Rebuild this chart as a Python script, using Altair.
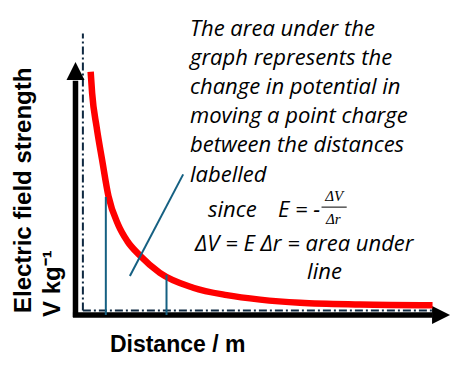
import altair as alt
import pandas as pd

# ---- data (arbitrary units: distance r, field strength E) ----
curve_r = [0.41, 0.45, 0.57, 0.72, 0.89, 1.16, 1.40, 1.74, 2.28, 3.18, 4.09, 4.99, 6.07, 7.69, 9.65]
curve_E = [9.81, 8.94, 7.59, 6.25, 4.80, 3.62, 2.98, 2.40, 1.70, 1.10, 0.80, 0.62, 0.49, 0.42, 0.39]

# the two labelled distances (vertical lines up to the curve)
mark_r = [0.82, 2.46]
mark_E = [4.76, 1.62]

# pointer line from the area to the text
pointer_r = [1.47, 2.91]
pointer_E = [1.57, 5.67]

# paragraph text
para_lines = [
    "The area under the",
    "graph represents the",
    "change in potential in",
    "moving a point charge",
    "between the distances",
    "labelled",
]
para_E = [11.55, 10.38, 9.21, 8.02, 6.85, 5.66]

XS = alt.Scale(domain=[-1.824, 10.419], nice=False, zero=False)
YS = alt.Scale(domain=[-2.097, 12.379], nice=False, zero=False)


def X(f="r"):
    return alt.X(f"{f}:Q", scale=XS, axis=None)


def Y(f="E"):
    return alt.Y(f"{f}:Q", scale=YS, axis=None)


curve_df = pd.DataFrame({"r": curve_r, "E": curve_E})
curve = alt.Chart(curve_df).mark_line(
    color="#ff0000", strokeWidth=6.5, interpolate="monotone", strokeCap="butt"
).encode(x=X(), y=Y())

marks_df = pd.DataFrame({"r": mark_r, "E": mark_E, "E0": [0.0, 0.0]})
vlines = alt.Chart(marks_df).mark_rule(color="#156082", strokeWidth=2).encode(
    x=X(), y=Y(), y2="E0:Q"
)

pointer_df = pd.DataFrame({"r": pointer_r, "E": pointer_E})
pointer = alt.Chart(pointer_df).mark_line(color="#156082", strokeWidth=2).encode(
    x=X(), y=Y()
)

# axes
axes_df = pd.DataFrame(
    {"r": [0.0, -0.07], "r2": [0.0, 9.65], "E": [-0.08, 0.0], "E2": [9.45, 0.0]}
)
axes = alt.Chart(axes_df).mark_rule(color="black", strokeWidth=5.5).encode(
    x=X(), x2="r2:Q", y=Y(), y2="E2:Q"
)

dash_df = pd.DataFrame(
    {"r": [0.20, 0.20], "r2": [0.20, 9.65], "E": [0.18, 0.18], "E2": [11.35, 0.18]}
)
dashes = alt.Chart(dash_df).mark_rule(
    color="#0e2841", strokeWidth=2, strokeDash=[8, 3, 2, 3]
).encode(x=X(), x2="r2:Q", y=Y(), y2="E2:Q")

up_arrow = alt.Chart(pd.DataFrame({"r": [0.0], "E": [9.84]})).mark_point(
    shape="M0,-1L1,1L-1,1Z", size=324, filled=True, color="black", opacity=1
).encode(x=X(), y=Y())
right_arrow = alt.Chart(pd.DataFrame({"r": [9.88], "E": [0.0]})).mark_point(
    shape="M1,0L-1,-1L-1,1Z", size=324, filled=True, color="black", opacity=1
).encode(x=X(), y=Y())

# axis titles
ytitle_df = pd.DataFrame(
    {"t": ["Electric field strength", "V kg⁻¹"], "r": [-1.39, -0.62], "E": [0.08, -0.08]}
)
ytitle = alt.Chart(ytitle_df).mark_text(
    angle=270, align="left", baseline="middle", font="Liberation Sans",
    fontWeight="bold", fontSize=24, color="black"
).encode(x=X(), y=Y(), text="t:N")

xtitle = alt.Chart(pd.DataFrame({"t": ["Distance / m"], "r": [0.93], "E": [-1.21]})).mark_text(
    align="left", baseline="middle", font="Liberation Sans", fontWeight="bold",
    fontSize=23, color="black"
).encode(x=X(), y=Y(), text="t:N")

para_df = pd.DataFrame({"t": para_lines, "r": [3.095] * len(para_lines), "E": para_E})
para = alt.Chart(para_df).mark_text(
    align="left", baseline="middle", font="Open Sans", fontStyle="italic",
    fontSize=22, color="black"
).encode(x=X(), y=Y(), text="t:N")

eq_df = pd.DataFrame(
    {
        "t": ["since", "E = -", "ΔV = E Δr = area under", "line"],
        "r": [3.58, 5.47, 3.23, 6.26],
        "E": [4.23, 4.23, 2.86, 1.73],
    }
)
eq = alt.Chart(eq_df).mark_text(
    align="left", baseline="middle", font="Open Sans", fontStyle="italic",
    fontSize=22, color="black"
).encode(x=X(), y=Y(), text="t:N")

frac_df = pd.DataFrame({"t": ["ΔV", "Δr"], "r": [6.99, 6.97], "E": [4.78, 3.88]})
frac = alt.Chart(frac_df).mark_text(
    align="center", baseline="middle", font="Liberation Serif", fontStyle="italic",
    fontSize=15, color="black"
).encode(x=X(), y=Y(), text="t:N")
frac_bar = alt.Chart(pd.DataFrame({"r": [6.65], "r2": [7.33], "E": [4.35]})).mark_rule(
    color="black", strokeWidth=1
).encode(x=X(), x2="r2:Q", y=Y())

chart = alt.layer(
    dashes, axes, up_arrow, right_arrow, curve, vlines, pointer,
    ytitle, xtitle, para, eq, frac, frac_bar
).properties(
    width=453, height=359, autosize=alt.AutoSizeParams(type="none"), padding=0
).configure_view(stroke=None)

chart.save("out.html", embed_options={"renderer": "svg", "actions": False})
